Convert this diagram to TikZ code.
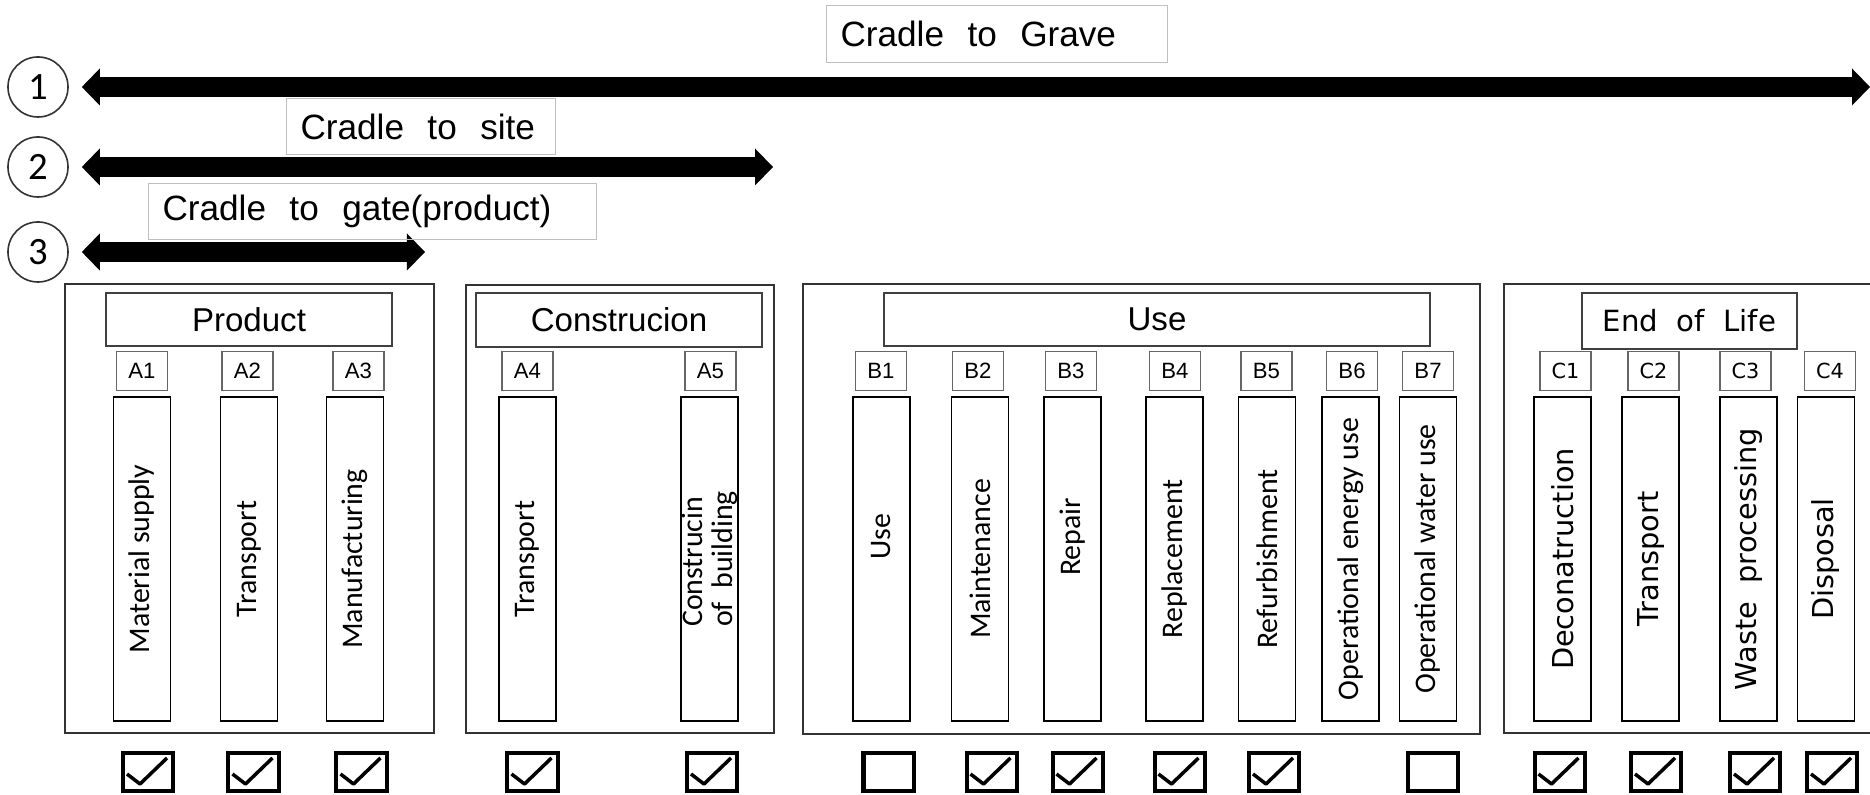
\documentclass[tikz,border=0pt]{standalone}
\usepackage{fontspec}
\setmainfont{Liberation Sans}
\newfontfamily\calib{Carlito}
\newfontfamily\dejavu{DejaVu Sans}
\usetikzlibrary{arrows.meta}

\tikzset{
  num/.style={circle,draw=black!80,line width=0.016cm,minimum size=0.6cm,inner sep=0pt,font=\calib\fontsize{11}{12}\selectfont},
  span/.style={line width=0.2cm,{Triangle[width=0.37cm,length=0.18cm,line width=0pt]}-{Triangle[width=0.37cm,length=0.18cm,line width=0pt]}},
  toplbl/.style={draw=black!25,line width=0.01cm,anchor=north west,inner xsep=0.14cm,inner ysep=0pt,align=left,font=\fontsize{10}{12}\selectfont},
  grp/.style={draw=black!80,line width=0.016cm,anchor=north west,inner sep=0pt},
  hdr/.style={draw=black!75,line width=0.015cm,inner sep=0pt,font=\fontsize{9.4}{11}\selectfont},
  code/.style={draw=black!60,line width=0.012cm,minimum width=0.51cm,minimum height=0.39cm,inner sep=0pt,font=\fontsize{6.3}{7}\selectfont},
  codec/.style={code,font=\dejavu\fontsize{5.9}{7}\selectfont},
  col/.style={draw,line width=0.018cm,rotate=90,minimum width=3.24cm,minimum height=0.57cm,inner sep=0pt,align=left,font=\calib\fontsize{8.5}{8.6}\selectfont},
  colc/.style={col,font=\dejavu\fontsize{8.2}{9}\selectfont},
  ckbox/.style={draw,line width=0.04cm,minimum width=0.5cm,minimum height=0.38cm,inner sep=0pt},
  tick/.style={line width=0.035cm,line join=round}
}

\begin{document}
\begin{tikzpicture}[x=0.01cm,y=-0.01cm]
  \useasboundingbox (0,0) rectangle (1870,795);

  % system boundaries
  \node[num] (n1) at (38,87) {1};
  \node[num] (n2) at (38,167) {2};
  \node[num] (n3) at (38,252) {3};
  \coordinate (e1) at (1870,87);
  \coordinate (e2) at (773,167);
  \coordinate (e3) at (425,252);
  \draw[span] ([xshift=0.13cm]n1.east) -- (e1);
  \draw[span] ([xshift=0.13cm]n2.east) -- (e2);
  \draw[span] ([xshift=0.13cm]n3.east) -- (e3);

  \node[toplbl,text width=3.13cm,minimum height=0.57cm] (grave) at (826,5) {Cradle~~to~~Grave};
  \node[toplbl,text width=2.41cm,minimum height=0.56cm] (site) at (286,98) {Cradle~~to~~site};
  \node[toplbl,text width=4.20cm,minimum height=0.56cm] (gate) at (148,183) {Cradle~~to~~gate(product)};

  % stages
  \node[grp,minimum width=3.69cm,minimum height=4.49cm] (prod) at (64,283) {};
  \node[grp,minimum width=3.08cm,minimum height=4.48cm] (cons) at (465,284) {};
  \node[grp,minimum width=6.77cm,minimum height=4.50cm] (use) at (802,283) {};
  \node[grp,minimum width=3.80cm,minimum height=4.49cm] (eol) at (1503,283) {};

  \node[hdr,minimum width=2.86cm,minimum height=0.53cm] (hprod) at (249,319.5) {Product};
  \node[hdr,minimum width=2.86cm,minimum height=0.54cm] (hcons) at (619,320) {Construcion};
  \node[hdr,minimum width=5.46cm,minimum height=0.53cm] (huse) at (1157,319.5) {Use};
  \node[hdr,minimum width=2.15cm,minimum height=0.56cm,font=\dejavu\fontsize{8.3}{10}\selectfont] (heol) at (1689.5,321) {End~~of~~Life};

  % modules
  \foreach \nm/\cx in {A1/142,A2/247.5,A3/358.5,A4/527.5,A5/710.5,
                       B1/881,B2/978,B3/1071,B4/1175,B5/1266.5,B6/1352,B7/1428}
    \node[code] (l\nm) at (\cx,371) {\nm};
  \foreach \nm/\cx in {C1/1565.5,C2/1653.5,C3/1745.5,C4/1830}
    \node[codec] (l\nm) at (\cx,371) {\nm};

  \foreach \nm/\cx/\txt in {a1/142/Material supply,a2/249/Transport,a3/355/Manufacturing,
                            a4/527.5/Transport,a5/709.5/{Construcin\\of\ \ building},
                            b1/881.5/{\hspace*{0.44cm}Use},b2/980/Maintenance,b3/1072.5/{\hspace*{0.44cm}Repair},
                            b4/1174.5/Replacement,b5/1267/Refurbishment,
                            b6/1350.5/Operational energy use,b7/1428/Operational water use}
    \node[col] (\nm) at (\cx,559) {\txt};
  \foreach \nm/\cx/\txt in {c1/1562.5/Deconatruction,c2/1650.5/Transport,
                            c3/1748.5/Waste~~processing,c4/1826/Disposal}
    \node[colc] (\nm) at (\cx,559) {\txt};

  % scope check
  \foreach \nm/\cx in {a1/148,a2/253.5,a3/361.5,a4/532.5,a5/712,b2/991.5,b3/1077.5,
                       b4/1179.5,b5/1274,c1/1559.5,c2/1656,c3/1755,c4/1832} {
    \node[ckbox] (k\nm) at (\cx,772) {};
    \draw[tick] ([shift={(-21,2)}]k\nm.center) -- ([shift={(-8,12)}]k\nm.center)
      -- ([shift={(19,-14)}]k\nm.center);
  }
  \node[ckbox] (kb1) at (888.5,772) {};
  \node[ckbox] (kb7) at (1433,772) {};
\end{tikzpicture}
\end{document}
